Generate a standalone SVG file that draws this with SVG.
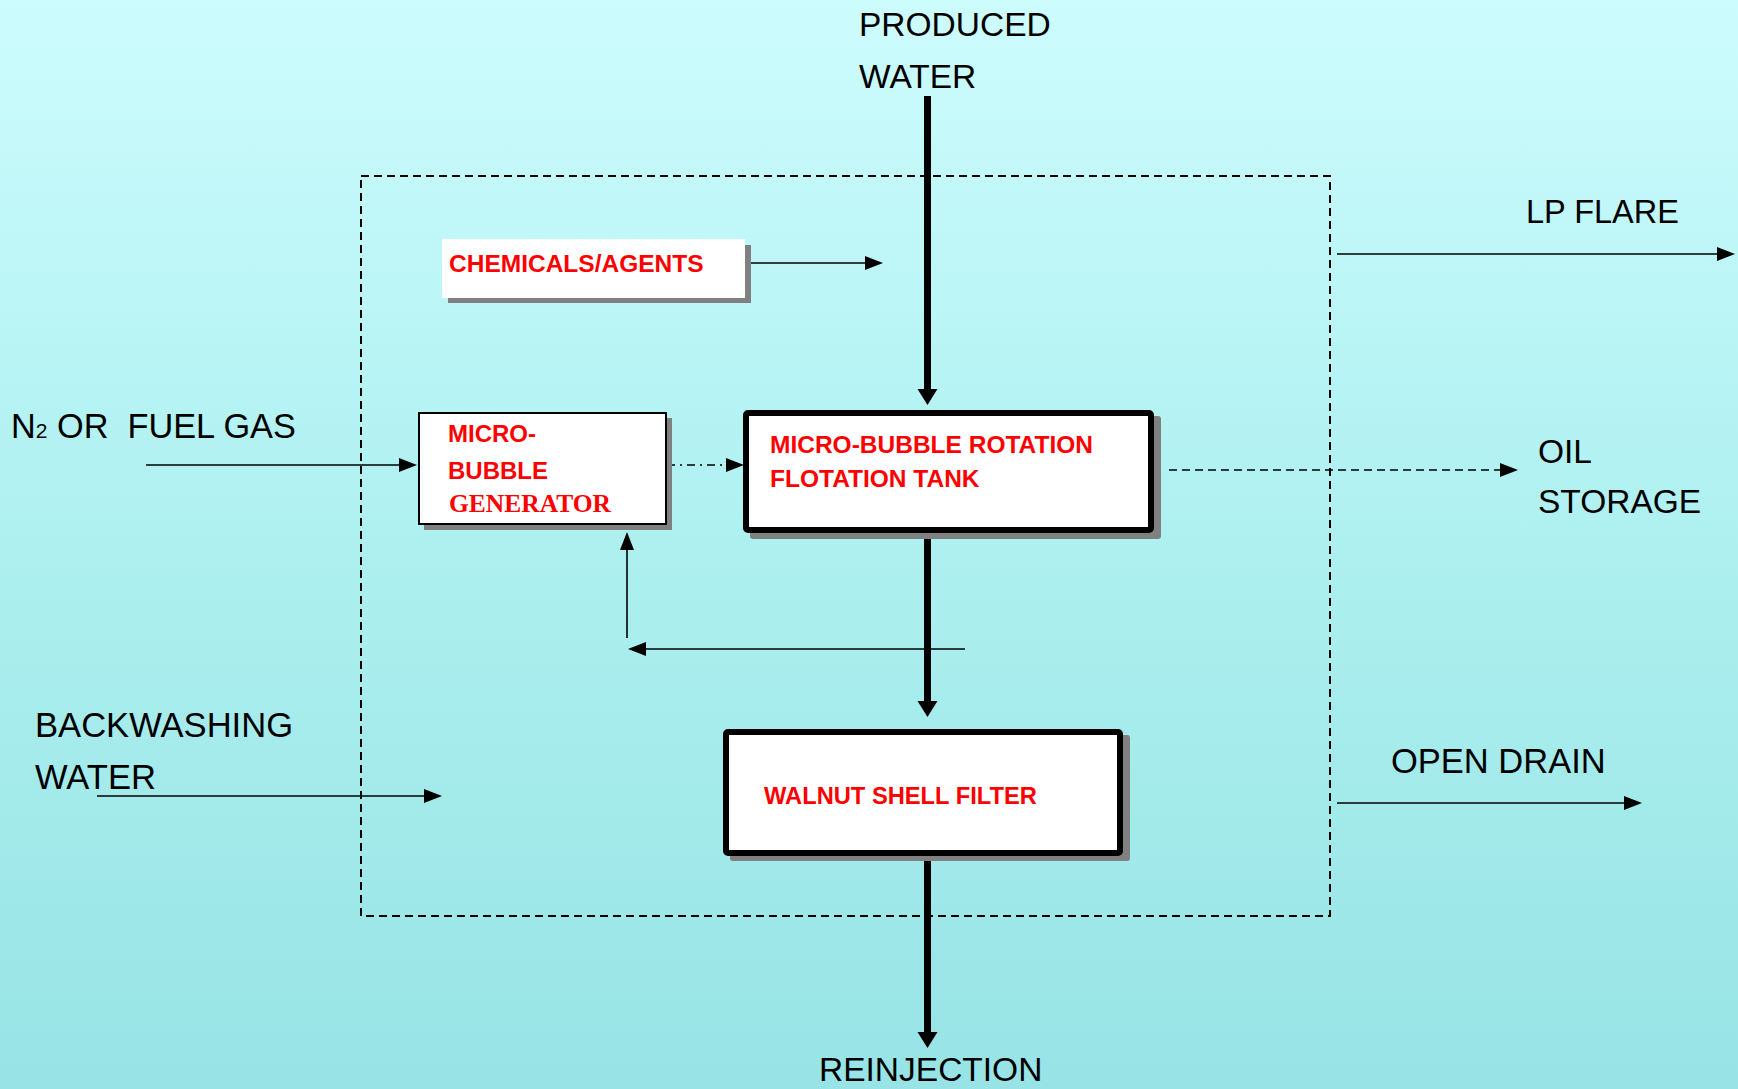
<svg xmlns="http://www.w3.org/2000/svg" width="1738" height="1089" viewBox="0 0 1738 1089">
<style>
.lbl{font-family:"Liberation Sans",Arial,sans-serif;font-size:33.5px;fill:#000;white-space:pre}
.red{font-family:"Liberation Sans",Arial,sans-serif;font-weight:bold;fill:#FF0000;font-size:24.5px}
.redserif{font-family:"Liberation Serif","Times New Roman",serif;font-weight:bold;fill:#FF0000;font-size:25.5px}
.thin{stroke:#000;stroke-width:1.6;fill:none}
.thick{stroke:#000;stroke-width:7;fill:none}
.shadow{fill:#808080}
.box{fill:#fff}
</style>
<defs>
<linearGradient id="bg" x1="0" y1="0" x2="0" y2="1">
<stop offset="0" stop-color="#CDFCFD"/>
<stop offset="0.5" stop-color="#AEF0F0"/>
<stop offset="1" stop-color="#97E3E5"/>
</linearGradient>
<marker id="ah" markerUnits="userSpaceOnUse" markerWidth="18" markerHeight="14" refX="0" refY="7" orient="auto" overflow="visible">
<path d="M0,0 L18,7 L0,14 z" fill="#000"/>
</marker>
<marker id="ahb" markerUnits="userSpaceOnUse" markerWidth="16" markerHeight="20" refX="0" refY="10" orient="auto" overflow="visible">
<path d="M0,0 L16,10 L0,20 z" fill="#000"/>
</marker>
</defs>
<rect x="0" y="0" width="1738" height="1089" fill="url(#bg)"/>

<g id="boundary">
<rect x="361" y="176" width="969" height="740" fill="none" stroke="#000" stroke-width="2" stroke-dasharray="8 5"/>
</g>

<g id="connectors">
<line class="thick" x1="927.5" y1="96" x2="927.5" y2="389" marker-end="url(#ahb)"/>
<line class="thin" x1="745" y1="263" x2="865" y2="263" marker-end="url(#ah)"/>
<line class="thin" x1="146" y1="465" x2="399" y2="465" marker-end="url(#ah)"/>
<line class="thin" x1="667" y1="465" x2="726" y2="465" stroke-dasharray="8 5 2 5" marker-end="url(#ah)"/>
<line class="thin" x1="1169" y1="470" x2="1500" y2="470" stroke-dasharray="8 5" marker-end="url(#ah)"/>
<line class="thin" x1="1337" y1="254" x2="1717" y2="254" marker-end="url(#ah)"/>
<line class="thin" x1="1337" y1="803" x2="1624" y2="803" marker-end="url(#ah)"/>
<line class="thin" x1="97" y1="796" x2="424" y2="796" marker-end="url(#ah)"/>
<line class="thick" x1="927.5" y1="533" x2="927.5" y2="701" marker-end="url(#ahb)"/>
<line class="thin" x1="965" y1="649" x2="646" y2="649" marker-end="url(#ah)"/>
<line class="thin" x1="627" y1="638" x2="627" y2="550" marker-end="url(#ah)"/>
<line class="thick" x1="927.5" y1="856" x2="927.5" y2="1032" marker-end="url(#ahb)"/>
</g>

<g id="chemicals">
<rect class="shadow" x="448" y="245" width="303" height="58"/>
<rect class="box" x="442" y="239" width="303" height="59"/>
<text class="red" x="449" y="272">CHEMICALS/AGENTS</text>
</g>

<g id="generator">
<rect class="shadow" x="424" y="418" width="248" height="112"/>
<rect class="box" x="419" y="413" width="247" height="111" stroke="#000" stroke-width="2"/>
<text class="red" x="448" y="442" style="font-size:24px">MICRO-</text>
<text class="red" x="448" y="479" style="font-size:24px">BUBBLE</text>
<text class="redserif" x="449" y="512">GENERATOR</text>
</g>

<g id="tank">
<rect class="shadow" x="750" y="416" width="411" height="123" rx="3"/>
<rect class="box" x="746" y="413" width="405" height="117" rx="2" stroke="#000" stroke-width="6"/>
<text class="red" x="770" y="453">MICRO-BUBBLE ROTATION</text>
<text class="red" x="770" y="487">FLOTATION TANK</text>
</g>

<g id="filter">
<rect class="shadow" x="730" y="735" width="400" height="126" rx="3"/>
<rect class="box" x="726" y="732" width="394" height="121" rx="2" stroke="#000" stroke-width="6"/>
<text class="red" x="764" y="804" style="font-size:23.7px">WALNUT SHELL FILTER</text>
</g>

<g id="labels">
<text class="lbl" x="859" y="36">PRODUCED</text>
<text class="lbl" x="859" y="88">WATER</text>
<text class="lbl" x="1526" y="223" style="font-size:32.5px">LP FLARE</text>
<text class="lbl" x="11" y="438" style="font-size:34.3px">N<tspan style="font-size:21px">2</tspan> OR  FUEL GAS</text>
<text class="lbl" x="1538" y="463">OIL</text>
<text class="lbl" x="1538" y="513">STORAGE</text>
<text class="lbl" x="35" y="737" style="font-size:34.6px">BACKWASHING</text>
<text class="lbl" x="35" y="789" style="font-size:34.6px">WATER</text>
<text class="lbl" x="1391" y="773" style="font-size:34.5px">OPEN DRAIN</text>
<text class="lbl" x="819" y="1081">REINJECTION</text>
</g>
</svg>
